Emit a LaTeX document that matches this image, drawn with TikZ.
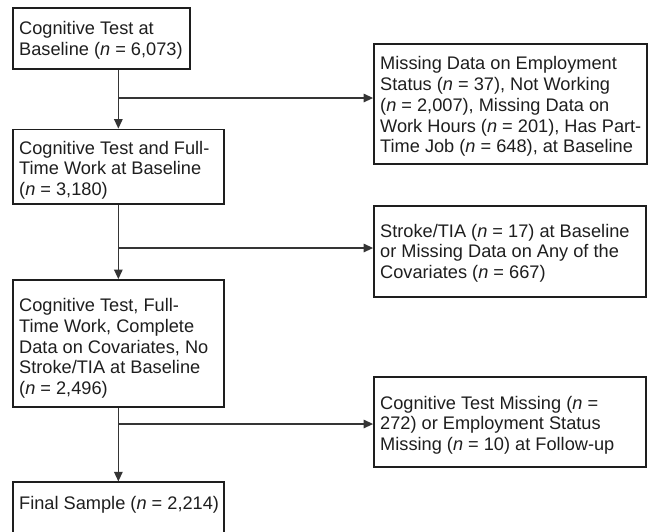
\documentclass[tikz,border=0pt]{standalone}
\usepackage{fontspec}
\setmainfont{Liberation Sans}
\usetikzlibrary{arrows.meta}
\definecolor{ink}{HTML}{1E1E1E}
\begin{document}
\begin{tikzpicture}[x=1pt,y=-1pt,
  boxnode/.style={draw=ink,line width=1.8pt,inner sep=0pt,rectangle},
  txt/.style={anchor=north west,inner sep=0pt,align=left,text=ink,
    font=\fontsize{18.2}{20.7}\selectfont},
  conn/.style={draw=ink!90,line width=1.3pt},
  arr/.style={conn,-{Triangle[length=9.5pt,width=8.5pt]}}]
\useasboundingbox (0,0) rectangle (650,531);
\clip (0,0) rectangle (650,531);
% left column boxes
\node[boxnode,minimum width=177.3pt,minimum height=60.7pt] (b1) at (101.35,38.65) {};
\node[boxnode,minimum width=211.3pt,minimum height=74.5pt] (b2) at (118.35,166.75) {};
\node[boxnode,minimum width=211.3pt,minimum height=127pt] (b3) at (118.35,343.5) {};
\node[boxnode,minimum width=211.3pt,minimum height=80pt] (b4) at (118.35,522.3) {};
% right column boxes
\node[boxnode,minimum width=273pt,minimum height=120pt] (r1) at (510.5,104) {};
\node[boxnode,minimum width=272pt,minimum height=91pt] (r2) at (510,251.5) {};
\node[boxnode,minimum width=272pt,minimum height=90pt] (r3) at (510,422) {};
% texts
\node[txt] (t1) at (19,21.6) {Cognitive Test at\\Baseline (\textit{n} = 6,073)};
\node[txt] (t2) at (19,140.9) {Cognitive Test and Full-\\Time Work at Baseline\\(\textit{n} = 3,180)};
\node[txt] (t3) at (19,298.3) {Cognitive Test, Full-\\Time Work, Complete\\Data on Covariates, No\\Stroke/TIA at Baseline\\(\textit{n} = 2,496)};
\node[txt] (t4) at (19,495.9) {Final Sample (\textit{n} = 2,214)};
\node[txt] (s1) at (380,56.6) {Missing Data on Employment\\Status (\textit{n} = 37), Not Working\\(\textit{n} = 2,007), Missing Data on\\Work Hours (\textit{n} = 201), Has Part-\\Time Job (\textit{n} = 648), at Baseline};
\node[txt] (s2) at (380,223.9) {Stroke/TIA (\textit{n} = 17) at Baseline\\or Missing Data on Any of the\\Covariates (\textit{n} = 667)};
\node[txt] (s3) at (380,395.9) {Cognitive Test Missing (\textit{n} =\\272) or Employment Status\\Missing (\textit{n} = 10) at Follow-up};
% junction points
\coordinate (j1) at (118.35,98);
\coordinate (j2) at (118.35,248);
\coordinate (j3) at (118.35,424);
% connectors
\draw[arr] (b1.south -| b2.north) -- (b2.north);
\draw[arr] (j1) -- (j1 -| r1.west);
\draw[arr] (b2.south) -- (b3.north);
\draw[arr] (j2) -- (j2 -| r2.west);
\draw[arr] (b3.south) -- (b4.north);
\draw[arr] (j3) -- (j3 -| r3.west);
\end{tikzpicture}
\end{document}
